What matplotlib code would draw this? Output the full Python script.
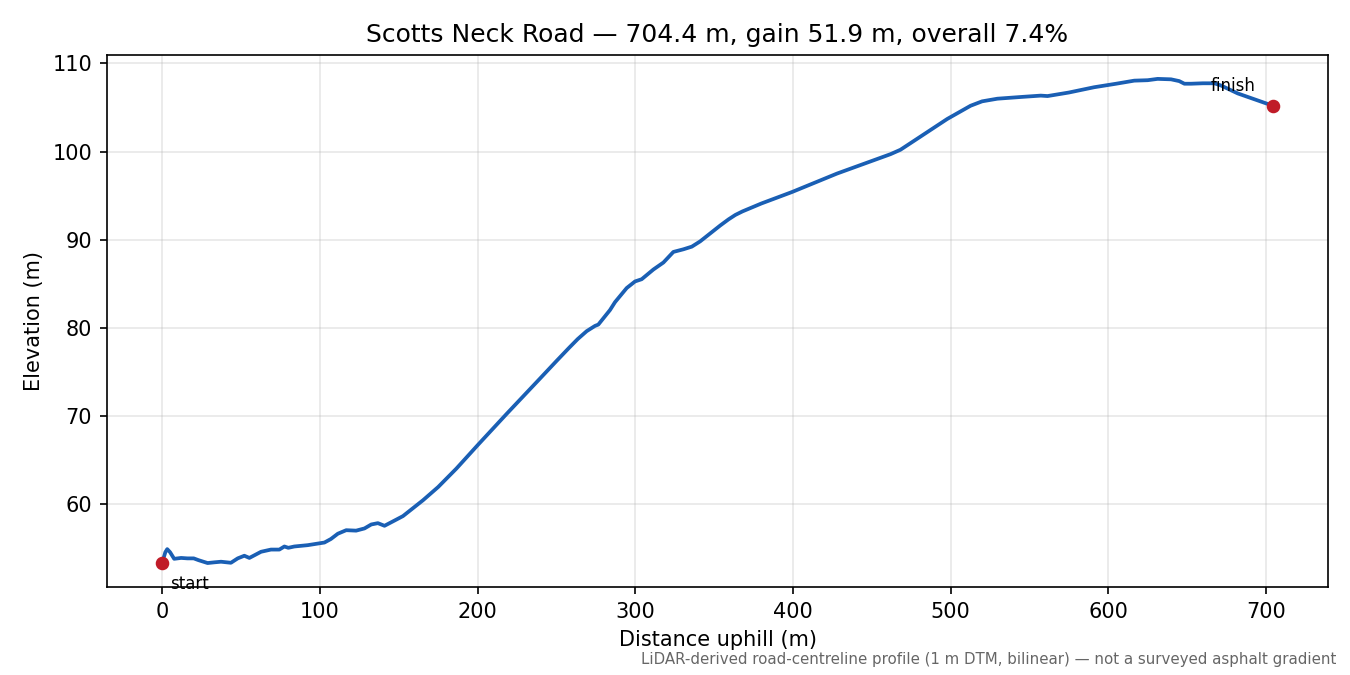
import matplotlib
matplotlib.use('Agg')
import matplotlib.pyplot as plt

# distance along road (m) and elevation (m)
dist = [0, 2.0, 3.2, 5.0, 7.6, 12, 16, 20, 23, 28.8, 33, 37.3, 43.6, 47.9, 52.1, 55.3,
        62.7, 69, 74.3, 77.5, 80, 83.8, 92.3, 102.9, 107, 111.4, 116.7, 123,
        128.3, 132.6, 136.8, 141, 147.4, 152.7, 165.4, 175, 186.6, 200.3,
        218.4, 239.5, 250, 258, 263.5, 269.2, 274.5, 276.6, 284, 287.2, 294.6,
        299.9, 304.1, 311.5, 317.9, 324.2, 330.6, 335.9, 341.2, 353.9, 359.2,
        363.5, 368, 380, 399.4, 428, 461.9, 468.2, 476.7, 497.9, 512.7, 520, 529.7,
        545, 557.2, 561.5, 575, 591, 605, 616.5, 625, 631.3, 639.8, 645,
        648.3, 652.5, 660, 667.3, 671.5, 682.1, 704.4]
elev = [53.3, 54.5, 54.85, 54.5, 53.75, 53.85, 53.8, 53.8, 53.6, 53.27, 53.35, 53.42, 53.3,
        53.8, 54.1, 53.85, 54.55, 54.8, 54.8, 55.15, 55.0, 55.15, 55.3, 55.6,
        56.0, 56.6, 57.0, 56.95, 57.2, 57.65, 57.8, 57.5, 58.1, 58.6, 60.4,
        61.9, 64.0, 66.7, 70.2, 74.2, 76.2, 77.7, 78.7, 79.6, 80.2, 80.35, 82.0,
        82.9, 84.5, 85.25, 85.5, 86.6, 87.4, 88.6, 88.9, 89.2, 89.8, 91.6,
        92.3, 92.8, 93.2, 94.1, 95.4, 97.5, 99.7, 100.2, 101.2, 103.7, 105.2, 105.7,
        106.0, 106.2, 106.35, 106.3, 106.7, 107.3, 107.7, 108.05, 108.1,
        108.25, 108.2, 108.0, 107.7, 107.7, 107.75, 107.75, 107.5, 106.6, 105.2]

road = "Scotts Neck Road"
length = 704.4
gain = 51.9
grade = 7.4

fig, ax = plt.subplots(figsize=(9, 4.5), dpi=150)
ax.plot(dist, elev, color='#1a5fb4', linewidth=1.8)
ax.plot([dist[0], dist[-1]], [elev[0], elev[-1]], 'o', color='#c01c28', markersize=5.5)

ax.annotate('start', (dist[0], elev[0]), xytext=(4, -6), textcoords='offset points',
            fontsize=8, va='top', ha='left')
ax.annotate('finish', (dist[-1], elev[-1]), xytext=(-30, 5), textcoords='offset points',
            fontsize=8, va='bottom', ha='left')

ax.set_title(f'{road} \u2014 {length} m, gain {gain} m, overall {grade}%')
ax.set_xlabel('Distance uphill (m)')
ax.set_ylabel('Elevation (m)')
ax.grid(True, alpha=0.3)

fig.text(0.99, 0.012, 'LiDAR-derived road-centreline profile (1 m DTM, bilinear) \u2014 not a surveyed asphalt gradient',
         ha='right', va='bottom', fontsize=7.2, color='#666666')

fig.subplots_adjust(left=0.079, right=0.984, top=0.919, bottom=0.13)
fig.savefig('out.png')
